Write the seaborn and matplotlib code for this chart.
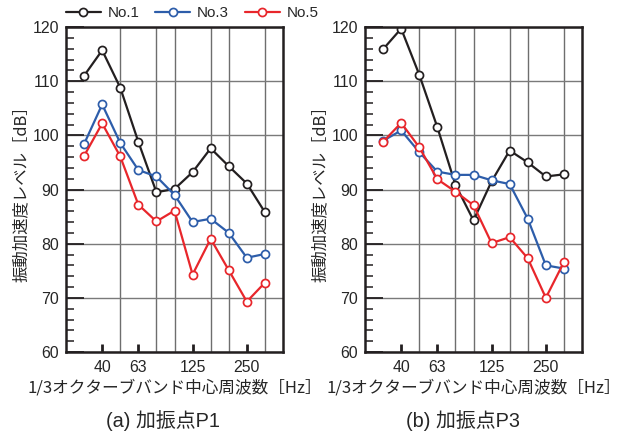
import numpy as np
import pandas as pd
import matplotlib
matplotlib.use("Agg")
import matplotlib.pyplot as plt
import seaborn as sns

# ---- data ----
freqs = ["31.5", "40", "50", "63", "80", "100", "125", "160", "200", "250", "315"]
shown_ticks = ["40", "63", "125", "250"]
series_names = ["No.1", "No.3", "No.5"]
series_colors = ["#231f20", "#2d5daa", "#e8262b"]

p1_no1 = [111.0, 115.7, 108.8, 98.8, 89.5, 90.1, 93.2, 97.6, 94.3, 91.1, 85.8]
p1_no3 = [98.4, 105.7, 98.6, 93.6, 92.4, 89.0, 84.0, 84.6, 82.0, 77.4, 78.1]
p1_no5 = [96.2, 102.2, 96.1, 87.2, 84.1, 86.1, 74.3, 80.9, 75.1, 69.3, 72.8]

p3_no1 = [115.9, 119.7, 111.2, 101.5, 90.9, 84.3, 91.5, 97.2, 95.0, 92.4, 92.8]
p3_no3 = [99.0, 100.9, 96.9, 93.3, 92.7, 92.7, 91.7, 91.0, 84.6, 76.0, 75.4]
p3_no5 = [98.8, 102.3, 97.8, 91.9, 89.6, 87.1, 80.1, 81.2, 77.3, 70.0, 76.6]

panel_titles = ["(a) 加振点P1", "(b) 加振点P3"]
ylabel_text = "振動加速度レベル［dB］"
xlabel_text = "1/3オクターブバンド中心周波数［Hz］"

sns.set_style("ticks")
plt.rcParams["font.family"] = ["Liberation Sans", "Noto Sans CJK JP", "DejaVu Sans"]
cjk = ["Noto Sans CJK JP", "DejaVu Sans"]

fig = plt.figure(figsize=(6.2, 4.34), dpi=100)
W, H = 620, 434
ax_w = 217 / W
ax_h = 325 / H
ax_b = 1 - 352 / H
axes = [fig.add_axes([66 / W, ax_b, ax_w, ax_h]),
        fig.add_axes([365 / W, ax_b, ax_w, ax_h])]

panels = [[p1_no1, p1_no3, p1_no5], [p3_no1, p3_no3, p3_no5]]

for ax, data, title in zip(axes, panels, panel_titles):
    for name, vals, col in zip(series_names, data, series_colors):
        df = pd.DataFrame({"freq": freqs, "level": vals})
        sns.lineplot(data=df, x="freq", y="level", ax=ax, color=col, lw=1.6,
                     marker="o", ms=5.8, mfc="white", mec=col, mew=1.25,
                     label=name, zorder=3, sort=False)
    if ax.get_legend() is not None:
        ax.get_legend().remove()

    ax.set_xlim(-1, len(freqs))
    ax.set_ylim(60, 120)
    ax.set_yticks(np.arange(60, 121, 10))
    ax.set_yticks(np.arange(60, 121, 2), minor=True)
    ax.set_yticklabels([str(v) for v in range(60, 121, 10)], fontsize=11.4)
    pos = [freqs.index(t) for t in shown_ticks]
    ax.set_xticks(pos)
    ax.set_xticklabels(shown_ticks, fontsize=11.4)
    ax.set_xticks(list(range(1, len(freqs))), minor=True)

    ax.tick_params(axis="y", which="major", direction="in", length=13, width=1.3,
                   color="#231f20", pad=5)
    ax.tick_params(axis="y", which="minor", direction="in", length=6, width=1.1,
                   color="#231f20")
    ax.tick_params(axis="x", which="major", direction="in", length=5.5, width=2,
                   color="#231f20", pad=6)
    ax.tick_params(axis="x", which="minor", length=0)

    ax.grid(False)
    ax.xaxis.grid(True, which="minor", color="#6e6e6e", lw=1.0, zorder=0)
    ax.yaxis.grid(True, which="major", color="#7a7a7a", lw=1.0, zorder=0)
    ax.set_axisbelow(True)
    for sp in ax.spines.values():
        sp.set_visible(True)
        sp.set_color("#231f20")
        sp.set_linewidth(1.8)
        sp.set_zorder(4)

    ax.set_ylabel(ylabel_text, fontsize=11.8, family=cjk)
    ax.yaxis.set_label_coords(-0.207, 0.5)
    ax.yaxis.label.set_verticalalignment("center")
    ax.set_xlabel(xlabel_text, fontsize=12.0, family=cjk)
    ax.xaxis.set_label_coords(0.5, -0.111)
    ax.xaxis.label.set_verticalalignment("center")

    bb = ax.get_position()
    fig.text(bb.x0 + bb.width / 2 - 11 / W, 1 - 421 / H, title, fontsize=14.3,
             ha="center", va="center")

handles, labels = axes[0].get_legend_handles_labels()
fig.legend(handles, labels, loc="center left", bbox_to_anchor=(66 / W, 1 - 13 / H),
           ncol=3, frameon=False, fontsize=10.9, borderpad=0, borderaxespad=0,
           handlelength=2.3, handletextpad=0.45, columnspacing=1.05)

fig.savefig("out.png", dpi=100)
